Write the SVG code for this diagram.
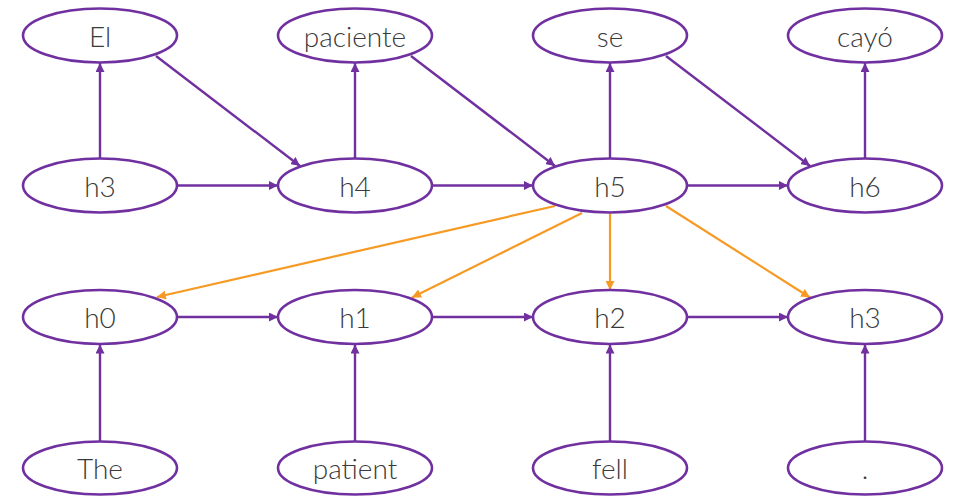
<svg xmlns="http://www.w3.org/2000/svg" width="954" height="496" viewBox="0 0 954 496">
  <style>
    .node ellipse { fill: #ffffff; stroke: #7030a0; stroke-width: 2.6; }
    .node text { font-family: Lato, "Open Sans", sans-serif; font-weight: 300; font-size: 28px; fill: #3a3a3a; text-anchor: middle; dominant-baseline: central; }
    .edge { stroke: #7030a0; stroke-width: 2.4; fill: none; marker-end: url(#arrowPurple); }
    .attn { stroke: #f79a24; stroke-width: 2.2; fill: none; marker-end: url(#arrowOrange); }
  </style>
  <defs>
    <marker id="arrowPurple" viewBox="0 0 10 10" refX="10" refY="5" markerWidth="9" markerHeight="9" markerUnits="userSpaceOnUse" orient="auto">
      <path d="M0,0 L10,5 L0,10 z" fill="#7030a0"/>
    </marker>
    <marker id="arrowOrange" viewBox="0 0 10 10" refX="10" refY="5" markerWidth="9" markerHeight="9" markerUnits="userSpaceOnUse" orient="auto">
      <path d="M0,0 L10,5 L0,10 z" fill="#f79a24"/>
    </marker>
  </defs>

  <!-- connectors -->
  <g id="connectors">
    <!-- decoder: hidden states to output words -->
    <line class="edge" x1="100" y1="158.5" x2="100" y2="63"/>
    <line class="edge" x1="355" y1="158.5" x2="355" y2="63"/>
    <line class="edge" x1="610" y1="158.5" x2="610" y2="63"/>
    <line class="edge" x1="865" y1="158.5" x2="865" y2="63"/>
    <!-- previous word feeds next state -->
    <line class="edge" x1="156" y1="56" x2="300" y2="166"/>
    <line class="edge" x1="411" y1="56" x2="555" y2="166"/>
    <line class="edge" x1="666" y1="56" x2="810" y2="166"/>
    <!-- decoder recurrence -->
    <line class="edge" x1="177" y1="185.5" x2="278" y2="185.5"/>
    <line class="edge" x1="432" y1="185.5" x2="533" y2="185.5"/>
    <line class="edge" x1="687" y1="185.5" x2="788" y2="185.5"/>
    <!-- attention -->
    <line class="attn" x1="555" y1="206" x2="157" y2="297"/>
    <line class="attn" x1="582" y1="213" x2="412" y2="297.5"/>
    <line class="attn" x1="610" y1="213.5" x2="610" y2="290"/>
    <line class="attn" x1="666" y1="206" x2="810" y2="297.5"/>
    <!-- encoder recurrence -->
    <line class="edge" x1="177" y1="317" x2="278" y2="317"/>
    <line class="edge" x1="432" y1="317" x2="533" y2="317"/>
    <line class="edge" x1="687" y1="317" x2="788" y2="317"/>
    <!-- encoder: input words to hidden states -->
    <line class="edge" x1="100" y1="441.5" x2="100" y2="344.5"/>
    <line class="edge" x1="355" y1="441.5" x2="355" y2="344.5"/>
    <line class="edge" x1="610" y1="441.5" x2="610" y2="344.5"/>
    <line class="edge" x1="865" y1="441.5" x2="865" y2="344.5"/>
  </g>

  <!-- output words -->
  <g id="out-el" class="node"><ellipse cx="100" cy="35.5" rx="77" ry="27"/><text x="100" y="35.5">El</text></g>
  <g id="out-paciente" class="node"><ellipse cx="355" cy="35.5" rx="77" ry="27"/><text x="355" y="35.5">paciente</text></g>
  <g id="out-se" class="node"><ellipse cx="610" cy="35.5" rx="77" ry="27"/><text x="610" y="35.5">se</text></g>
  <g id="out-cayo" class="node"><ellipse cx="865" cy="35.5" rx="77" ry="27"/><text x="865" y="35.5">cayó</text></g>

  <!-- decoder states -->
  <g id="dec-h3" class="node"><ellipse cx="100" cy="185.5" rx="77" ry="27"/><text x="100" y="185.5">h3</text></g>
  <g id="dec-h4" class="node"><ellipse cx="355" cy="185.5" rx="77" ry="27"/><text x="355" y="185.5">h4</text></g>
  <g id="dec-h5" class="node"><ellipse cx="610" cy="185.5" rx="77" ry="27"/><text x="610" y="185.5">h5</text></g>
  <g id="dec-h6" class="node"><ellipse cx="865" cy="185.5" rx="77" ry="27"/><text x="865" y="185.5">h6</text></g>

  <!-- encoder states -->
  <g id="enc-h0" class="node"><ellipse cx="100" cy="317" rx="77" ry="27"/><text x="100" y="317">h0</text></g>
  <g id="enc-h1" class="node"><ellipse cx="355" cy="317" rx="77" ry="27"/><text x="355" y="317">h1</text></g>
  <g id="enc-h2" class="node"><ellipse cx="610" cy="317" rx="77" ry="27"/><text x="610" y="317">h2</text></g>
  <g id="enc-h3" class="node"><ellipse cx="865" cy="317" rx="77" ry="27"/><text x="865" y="317">h3</text></g>

  <!-- input words -->
  <g id="in-the" class="node"><ellipse cx="100" cy="468" rx="77" ry="26.5"/><text x="100" y="468">The</text></g>
  <g id="in-patient" class="node"><ellipse cx="355" cy="468" rx="77" ry="26.5"/><text x="355" y="468">patient</text></g>
  <g id="in-fell" class="node"><ellipse cx="610" cy="468" rx="77" ry="26.5"/><text x="610" y="468">fell</text></g>
  <g id="in-period" class="node"><ellipse cx="865" cy="468" rx="77" ry="26.5"/><text x="865" y="468">.</text></g>
</svg>
